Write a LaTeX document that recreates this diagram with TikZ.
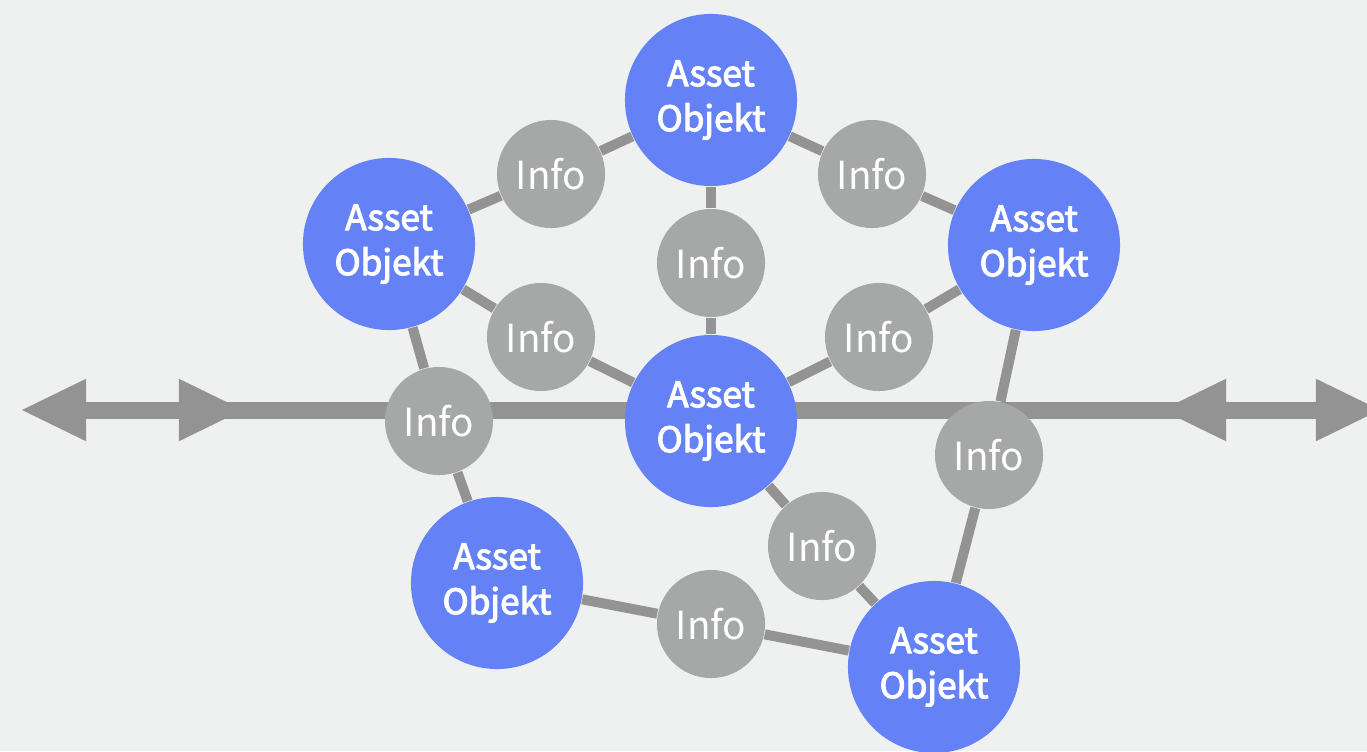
\documentclass[tikz,border=0pt]{standalone}
\usepackage{fontspec}
\setmainfont{Noto Sans CJK SC}[AutoFakeBold=3]
\usetikzlibrary{arrows.meta}
\definecolor{bgcol}{HTML}{EFF1F0}
\definecolor{assetblue}{HTML}{6482F5}
\definecolor{infogrey}{HTML}{A5A8A6}
\definecolor{linegrey}{HTML}{939393}
\tikzset{
  asset/.style={circle, fill=assetblue, text=white, minimum size=1.72cm, inner sep=0pt,
    align=center, font=\fontsize{10}{12.8}\selectfont\bfseries},
  info/.style={circle, fill=infogrey, text=white, minimum size=1.08cm, inner sep=0pt,
    font=\fontsize{11}{12}\selectfont},
  link/.style={draw=linegrey, line width=0.1cm},
  axis/.style={draw=linegrey, line width=0.17cm},
  axtip/.tip={Triangle[length=6.6mm, width=5.7mm]}
}
\begin{document}
\begin{tikzpicture}[x=0.01cm, y=-0.01cm]
\useasboundingbox[fill=bgcol] (0,0) rectangle (1367,751);
% axis
\coordinate (axl) at (20,410);
\coordinate (axr) at (1382,410);
\coordinate (axlb) at (90,410);
\coordinate (axrb) at (1310,410);
\coordinate (axli) at (245,410);
\coordinate (axri) at (1160,410);
\draw[axis, axtip-axtip] (axl) -- (axr);
\draw[axis, -axtip] (axlb) -- (axli);
\draw[axis, -axtip] (axrb) -- (axri);
% asset objects
\node[asset] (at) at (711,100) {Asset\\Objekt};
\node[asset] (al) at (389,244) {Asset\\Objekt};
\node[asset] (ar) at (1034,245) {Asset\\Objekt};
\node[asset] (ac) at (711,421) {Asset\\Objekt};
\node[asset] (abl) at (497,583) {Asset\\Objekt};
\node[asset] (abr) at (934,667) {Asset\\Objekt};
% infos
\node[info] (i1) at (551,174) {Info};
\node[info] (i2) at (872,174) {Info};
\node[info] (i3) at (711,263) {Info};
\node[info] (i4) at (541,337) {Info};
\node[info] (i5) at (879,337) {Info};
\node[info] (i6) at (439,421) {Info};
\node[info] (i7) at (989,455) {Info};
\node[info] (i8) at (822,546) {Info};
\node[info] (i9) at (711,624) {Info};
% links
\draw[link] (at) -- (i1);
\draw[link] (i1) -- (al);
\draw[link] (at) -- (i2);
\draw[link] (i2) -- (ar);
\draw[link] (at) -- (i3);
\draw[link] (i3) -- (ac);
\draw[link] (al) -- (i4);
\draw[link] (i4) -- (ac);
\draw[link] (ar) -- (i5);
\draw[link] (i5) -- (ac);
\draw[link] (al) -- (i6);
\draw[link] (i6) -- (abl);
\draw[link] (ar) -- (i7);
\draw[link] (i7) -- (abr);
\draw[link] (ac) -- (i8);
\draw[link] (i8) -- (abr);
\draw[link] (abl) -- (i9);
\draw[link] (i9) -- (abr);
\end{tikzpicture}
\end{document}
